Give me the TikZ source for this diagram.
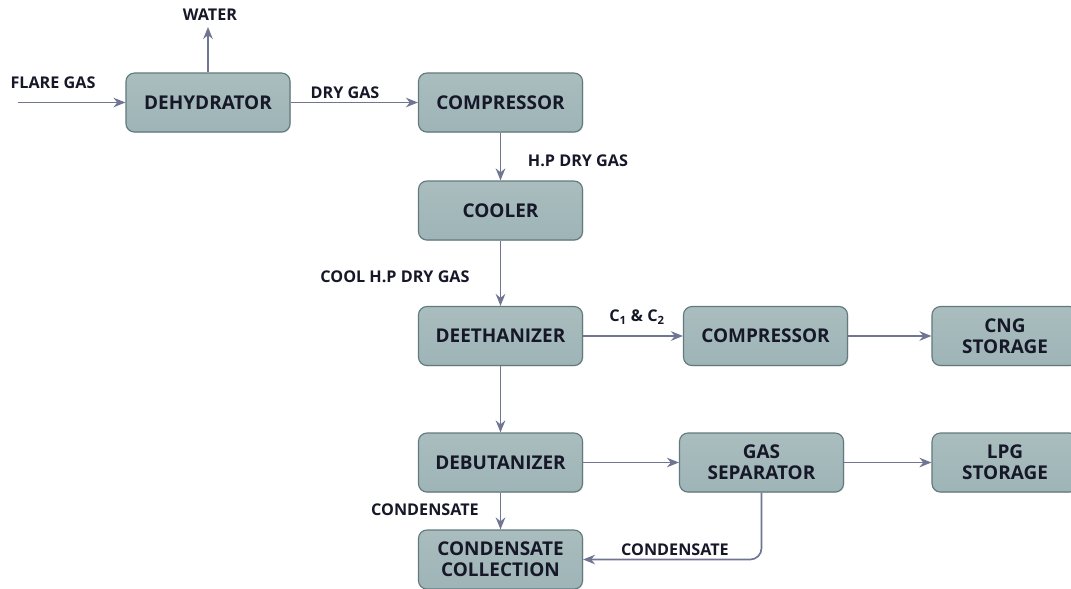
\documentclass[tikz,border=0pt]{standalone}
\usepackage{fontspec}
\setmainfont{Open Sans}
\usepackage{xcolor}
\usepackage{tikz}
\usetikzlibrary{positioning,calc,arrows.meta,shadows}
\definecolor{BoxFill}{RGB}{158,180,182}
\definecolor{BoxEdge}{RGB}{98,122,126}
\definecolor{FlowLine}{RGB}{112,117,146}
\definecolor{TextInk}{RGB}{22,24,40}
\tikzset{
    unit/.style={rectangle, rounded corners=6pt, draw=BoxEdge, thick, top color=BoxFill!88!white, bottom color=BoxFill,
        minimum width=4.1cm, minimum height=1.475cm, align=center, text=TextInk,
        font=\bfseries\fontsize{13.5}{15}\selectfont, drop shadow={opacity=0.25, shadow xshift=0.6pt, shadow yshift=-0.6pt}},
    store/.style={unit, minimum width=3.65cm},
    flow/.style={draw=FlowLine, line width=1.2pt, -{Stealth[length=3mm, width=2.4mm]}},
    tag/.style={text=TextInk, font=\bfseries\fontsize{11.5}{13}\selectfont}
}

\begin{document}
\begin{tikzpicture}[x=0.025cm, y=-0.025cm]

    \useasboundingbox (0,0) rectangle (1071,588);

    % --- UNITS ---
    \node[unit] (dehyd) at (208,102.5) {DEHYDRATOR};
    \node[unit] (comp1) at (500.5,102.5) {COMPRESSOR};
    \node[unit] (cool) at (500.5,210.5) {COOLER};
    \node[unit] (deeth) at (500.5,336) {DEETHANIZER};
    \node[unit] (comp2) at (765.5,336) {COMPRESSOR};
    \node[store] (cng) at (1005,336) {CNG\\STORAGE};
    \node[unit] (debut) at (500.5,462.5) {DEBUTANIZER};
    \node[unit] (gassep) at (761.5,462.5) {GAS\\SEPARATOR};
    \node[store] (lpg) at (1005,462.5) {LPG\\STORAGE};
    \node[unit] (cond) at (500.5,559.5) {CONDENSATE\\COLLECTION};

    % --- FREE ENDS ---
    \coordinate (feed) at (18,102.5);
    \coordinate (wout) at (208,27);

    % --- FLOWS ---
    \draw[flow] (feed) -- (dehyd);
    \draw[flow] (dehyd) -- (wout);
    \draw[flow] (dehyd) -- (comp1);
    \draw[flow] (comp1) -- (cool);
    \draw[flow] (cool) -- (deeth);
    \draw[flow] (deeth) -- (comp2);
    \draw[flow] (comp2) -- (cng);
    \draw[flow] (deeth) -- (debut);
    \draw[flow] (debut) -- (gassep);
    \draw[flow] (gassep) -- (lpg);
    \draw[flow] (debut) -- (cond);
    \draw[flow, rounded corners=8pt] (gassep.south) |- (cond.east);

    % --- LABELS ---
    \node[tag] (lflare) at (53,83) {FLARE GAS};
    \node[tag] (lwater) at (210,15) {WATER};
    \node[tag] (ldry) at (345,93) {DRY GAS};
    \node[tag] (lhp) at (578,161) {H.P DRY GAS};
    \node[tag] (lcool) at (395,277) {COOL H.P DRY GAS};
    \node[tag] (lc12) at (637,317) {C\textsubscript{1} \& C\textsubscript{2}};
    \node[tag] (lcond1) at (425,510) {CONDENSATE};
    \node[tag] (lcond2) at (675,550) {CONDENSATE};

\end{tikzpicture}
\end{document}
